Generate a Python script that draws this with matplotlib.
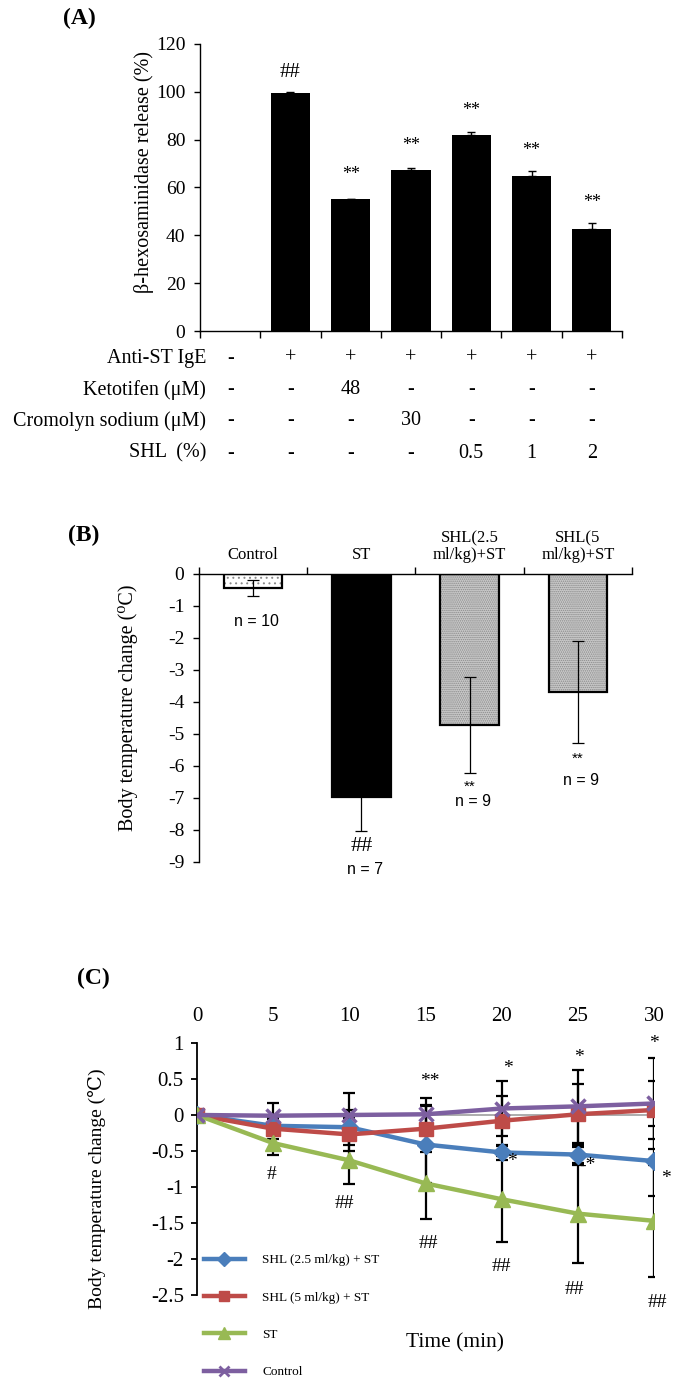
import matplotlib
matplotlib.use('Agg')
import matplotlib.pyplot as plt
import matplotlib.transforms as mtrans
from matplotlib.lines import Line2D
import numpy as np

plt.rcParams['font.family'] = ['Liberation Serif', 'DejaVu Serif']
plt.rcParams['hatch.linewidth'] = 0.7
plt.rcParams['axes.unicode_minus'] = False
SANS = ['Liberation Sans', 'DejaVu Sans']

# ---------------- data ----------------
# Panel A
a_values = [0, 99.6, 55.0, 67.4, 81.8, 64.8, 42.7]
a_errors = [0, 0.4, 0.4, 0.8, 1.2, 2.0, 2.5]
a_marks = ['', '##', '**', '**', '**', '**', '**']
a_mark_y = [0, 108, 65.4, 77.7, 92.2, 75.6, 53.6]
a_yticks = [0, 20, 40, 60, 80, 100, 120]
row_labels = ['Anti-ST IgE', 'Ketotifen (μM)', 'Cromolyn sodium (μM)', 'SHL  (%)']
row_values = [['-', '+', '+', '+', '+', '+', '+'],
              ['-', '-', '48', '-', '-', '-', '-'],
              ['-', '-', '-', '30', '-', '-', '-'],
              ['-', '-', '-', '-', '0.5', '1', '2']]

# Panel B
b_labels = ['Control', 'ST', 'SHL(2.5\nml/kg)+ST', 'SHL(5\nml/kg)+ST']
b_values = [-0.45, -6.97, -4.72, -3.69]
b_errors = [0.25, 1.05, 1.5, 1.6]
b_n = ['n = 10', 'n = 7', 'n = 9', 'n = 9']
b_n_y = [-1.47, -9.22, -7.12, -6.44]
b_marks = ['', '##', '**', '**']
b_mark_y = [0, -8.53, -6.66, -5.78]
b_yticks = [0, -1, -2, -3, -4, -5, -6, -7, -8, -9]

# Panel C
c_time = [0, 5, 10, 15, 20, 25, 30]
c_shl25 = [0, -0.15, -0.17, -0.41, -0.52, -0.55, -0.64]
c_shl5 = [0, -0.19, -0.27, -0.19, -0.08, 0.01, 0.07]
c_st = [0, -0.39, -0.63, -0.95, -1.17, -1.37, -1.47]
c_ctrl = [0, -0.01, 0.0, 0.01, 0.09, 0.12, 0.16]
c_shl25_err = [0, 0.10, 0.24, 0.53, 0.11, 0.11, 0.49]
c_shl5_err = [0, 0.15, 0.23, 0.33, 0.35, 0.42, 0.40]
c_st_err = [0, 0.16, 0.33, 0.49, 0.60, 0.68, 0.78]
c_ctrl_err = [0, 0.17, 0.31, 0.22, 0.38, 0.51, 0.63]
c_names = ['SHL (2.5 ml/kg) + ST', 'SHL (5 ml/kg) + ST', 'ST', 'Control']
c_ann_x = [4.9, 9.7, 15.3, 15.2, 20.4, 20.7, 20.0, 25.1, 25.6, 24.8, 30.0, 30.8, 30.2]
c_ann_y = [-0.83, -1.23, 0.46, -1.78, 0.64, -0.65, -2.1, 0.8, -0.7, -2.43, 0.99, -0.88, -2.61]
c_ann_t = ['#', '##', '**', '##', '*', '*', '##', '*', '-*', '##', '*', '*', '##']
c_yticks = [1, 0.5, 0, -0.5, -1, -1.5, -2, -2.5]

# ---------------- figure ----------------
W, H = 675, 1378
fig = plt.figure(figsize=(W / 100, H / 100), dpi=100)


def px_axes(x0, y0, x1, y1):
    return fig.add_axes([x0 / W, 1 - y1 / H, (x1 - x0) / W, (y1 - y0) / H])


def ftext(x, y, s, **kw):
    fig.text(x / W, 1 - y / H, s, **kw)


def fmt_num(v):
    return ('%g' % v)


# ---------------- Panel A ----------------
axA = px_axes(200, 44, 622, 331)
xa = np.arange(len(a_values))
axA.bar(xa, a_values, width=0.65, color='black', zorder=2)
mask = np.array(a_values) > 0
axA.errorbar(xa[mask], np.array(a_values)[mask],
             yerr=[np.zeros(mask.sum()), np.array(a_errors)[mask]],
             fmt='none', ecolor='black', elinewidth=1, capsize=3, capthick=1, zorder=3)
axA.set_xlim(-0.5, len(a_values) - 0.5)
axA.set_ylim(0, 120)
axA.set_yticks(a_yticks)
axA.set_xticks(np.arange(len(a_values) + 1) - 0.5)
axA.set_xticklabels([])
axA.tick_params(axis='y', length=4.5, width=1, labelsize=14, pad=6, direction='out')
axA.tick_params(axis='x', length=5, width=1, direction='out')
for s in ['top', 'right']:
    axA.spines[s].set_visible(False)
for s in ['left', 'bottom']:
    axA.spines[s].set_linewidth(1)
for i, (m, y) in enumerate(zip(a_marks, a_mark_y)):
    if m:
        axA.text(i, y, m, ha='center', va='center',
                 fontsize=15 if m.startswith('#') else 13)
ftext(144, 172, 'β-hexosaminidase release (%)', rotation=90, ha='center', va='center', fontsize=14.5)
ftext(63, 18, '(A)', fontsize=17, fontweight='bold', va='center', ha='left')

row_y = [358, 390, 421, 453]
tr = mtrans.blended_transform_factory(axA.transData, fig.transFigure)
for lab, vals, ry in zip(row_labels, row_values, row_y):
    ftext(206, ry, lab, ha='right', va='center', fontsize=14.5)
    for i, v in enumerate(vals):
        axA.text(i, 1 - ry / H, v, transform=tr, ha='center', va='center',
                 fontsize=14.5, clip_on=False)

# ---------------- Panel B ----------------
axB = px_axes(199, 574, 632, 862)
xb = np.arange(len(b_values))
bw = 0.54
face = ['white', 'black', '#c9c9c9', '#c9c9c9']
hatches = ['...', None, '........', '........']
hcol = ['#8a8a8a', 'black', '#8a8a8a', '#8a8a8a']
for i in range(len(b_values)):
    axB.bar(xb[i], b_values[i], width=bw, color=face[i], hatch=hatches[i],
            edgecolor=hcol[i], linewidth=0, zorder=2)
axB.bar(xb, b_values, width=bw, fill=False, edgecolor='black', linewidth=1.6, zorder=3)
axB.errorbar(xb, b_values, yerr=b_errors, fmt='none', ecolor='black',
             elinewidth=0.9, capsize=4, capthick=0.9, zorder=4)
axB.set_xlim(-0.5, len(b_values) - 0.5)
axB.set_ylim(-9, 0)
axB.set_yticks(b_yticks)
axB.xaxis.tick_top()
axB.set_xticks(xb)
axB.set_xticklabels(b_labels, fontsize=12, linespacing=1.05)
axB.set_xticks(np.arange(len(b_values) + 1) - 0.5, minor=True)
axB.tick_params(axis='x', which='major', length=0, pad=8)
axB.tick_params(axis='x', which='minor', length=5, width=1, direction='out')
axB.tick_params(axis='y', length=4.5, width=1, labelsize=14, pad=6, direction='out')
for s in ['bottom', 'right']:
    axB.spines[s].set_visible(False)
for s in ['left', 'top']:
    axB.spines[s].set_linewidth(1)
for i in range(len(b_values)):
    axB.text(xb[i] + 0.03, b_n_y[i], b_n[i], ha='center', va='center', fontsize=11.5, family=SANS)
    if b_marks[i]:
        if b_marks[i].startswith('#'):
            axB.text(xb[i], b_mark_y[i], b_marks[i], ha='center', va='center', fontsize=16)
        else:
            axB.text(xb[i], b_mark_y[i], b_marks[i], ha='center', va='center', fontsize=11, family=SANS)
ftext(128, 708, 'Body temperature change (\u2070C)', rotation=90, ha='center', va='center', fontsize=14.5)
ftext(68, 535, '(B)', fontsize=17, fontweight='bold', va='center', ha='left')

# ---------------- Panel C ----------------
axC = px_axes(197, 1043, 654, 1295)
cols = ['#4a7ebb', '#be4b48', '#98b954', '#7d5fa0']
marks = ['D', 's', '^', 'x']
msz = [9, 10.5, 11, 10]
series = [c_shl25, c_shl5, c_st, c_ctrl]
errs = [c_shl25_err, c_shl5_err, c_st_err, c_ctrl_err]
axC.axhline(0, color='#a6a6a6', lw=1.3, zorder=1)
for s, e in zip(series, errs):
    axC.errorbar(c_time, s, yerr=e, fmt='none', ecolor='black', elinewidth=1.6,
                 capsize=4, capthick=1.6, zorder=2)
handles = []
for s, c, m, ms, name in zip(series, cols, marks, msz, c_names):
    kw = dict(markeredgewidth=2.5) if m == 'x' else dict(markeredgecolor=c)
    axC.plot(c_time, s, color=c, lw=3.2, marker=m, markersize=ms, zorder=3, **kw)
    handles.append(Line2D([], [], color=c, lw=3.2, marker=m,
                          markersize=ms * 0.75, markeredgecolor=c,
                          markeredgewidth=2 if m == 'x' else 1, label=name))
axC.set_xlim(0, 30)
axC.set_ylim(-2.5, 1)
axC.set_yticks(c_yticks)
axC.set_yticklabels([fmt_num(v) for v in c_yticks])
axC.xaxis.tick_top()
axC.set_xticks(c_time)
axC.tick_params(axis='x', length=0, labelsize=15, pad=12)
axC.tick_params(axis='y', length=4.5, width=1.3, labelsize=15, pad=5, direction='out')
for s in ['top', 'right', 'bottom']:
    axC.spines[s].set_visible(False)
axC.spines['left'].set_linewidth(1.3)
for x, y, t in zip(c_ann_x, c_ann_y, c_ann_t):
    axC.text(x, y, t, ha='center', va='center', fontsize=14, clip_on=False)
ftext(97, 1189, 'Body temperature change (\u2103)', rotation=90, ha='center', va='center', fontsize=14)
ftext(455, 1343, 'Time (min)', ha='center', va='center', fontsize=15.5)
ftext(77, 978, '(C)', fontsize=17, fontweight='bold', va='center', ha='left')

fig.legend(handles=handles, loc='upper left', bbox_to_anchor=(204 / W, 1 - 1254 / H),
           frameon=False, fontsize=9.5, handlelength=3.1, handletextpad=1.3,
           labelspacing=1.9, borderpad=0, borderaxespad=0, numpoints=1)

fig.savefig('out.png', dpi=100)
